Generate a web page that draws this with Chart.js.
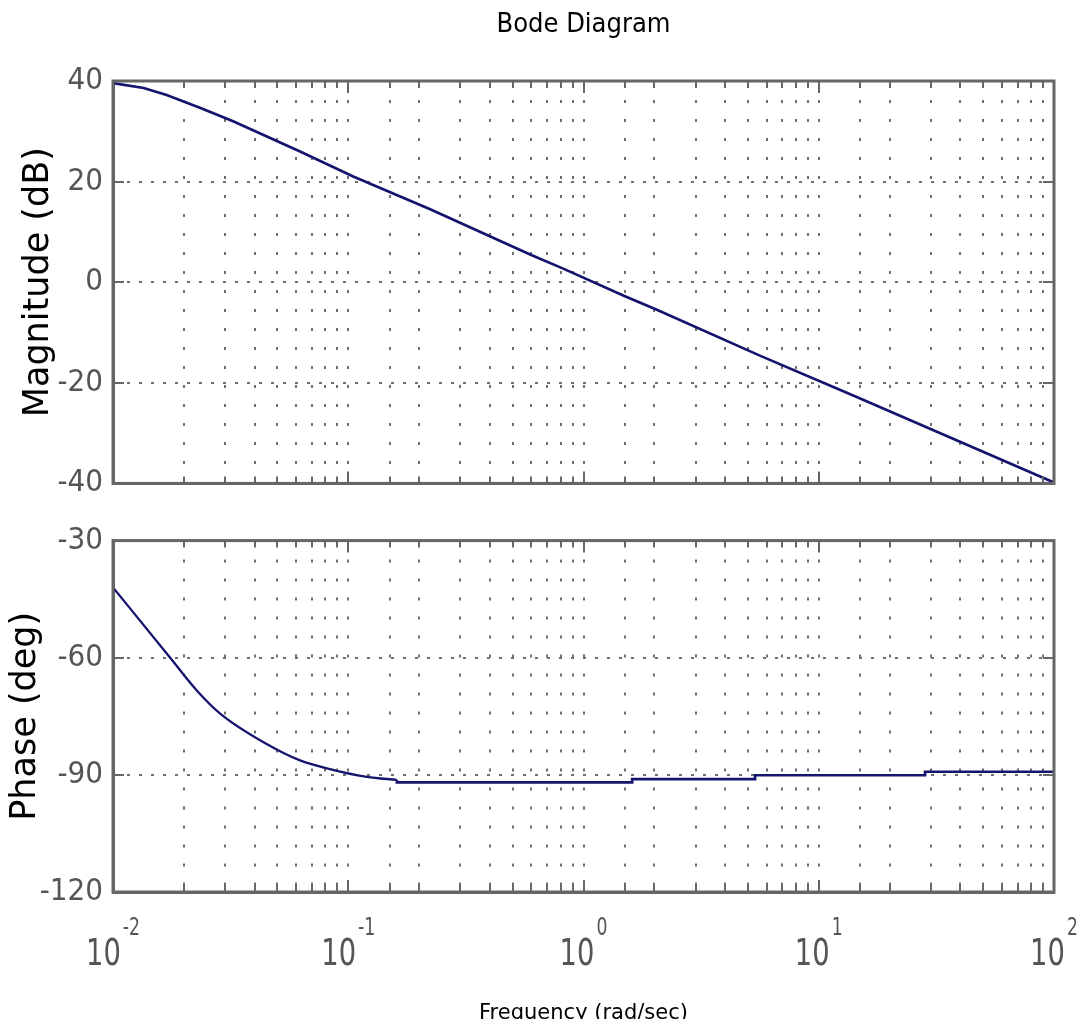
<!DOCTYPE html>
<html>
<head>
<meta charset="utf-8">
<script src="https://cdn.jsdelivr.net/npm/chart.js@4.4.1/dist/chart.umd.min.js"></script>
<style>
html, body { margin: 0; padding: 0; background: #fff; overflow: hidden; width: 1078px; height: 1019px; }
#wrap { position: relative; width: 1078px; height: 1019px; overflow: hidden; }
canvas { position: absolute; left: 0; }
#c1 { top: 0; }
#c2 { top: 512px; }
</style>
</head>
<body>
<div id="wrap">
  <canvas id="c1" width="1078" height="512"></canvas>
  <canvas id="c2" width="1078" height="528"></canvas>
</div>
<script>
// ---------------- data ----------------
const chartTitle = 'Bode Diagram';
const magLabel = 'Magnitude (dB)';
const phaseLabel = 'Phase (deg)';
const freqLabel = 'Frequency (rad/sec)';

const magFreq = [0.01, 0.0135, 0.0169, 0.0234, 0.0324, 0.0624, 0.105, 0.223, 0.593, 0.82, 1.5, 2.05, 5.62, 14.5, 100];
const magDb   = [39.6, 38.6, 37.2, 34.7, 32.0, 26.0, 21.0, 14.5, 5.5, 2.7, -2.8, -5.5, -14.6, -22.8, -39.8];

// smooth low-frequency part of the phase curve
const phaseCurveFreq = [0.01, 0.0175, 0.0228, 0.0288, 0.045, 0.0624, 0.086, 0.12, 0.161];
const phaseCurveDeg  = [-42, -60, -68.5, -74.5, -82.1, -86.3, -88.7, -90.5, -91.3];
// quantised flat part of the phase curve
const phaseStepFreq = [0.161, 0.161, 1.61, 1.61, 5.36, 5.36, 28.3, 28.3, 100];
const phaseStepDeg  = [-91.3, -91.9, -91.9, -91.1, -91.1, -90.1, -90.1, -89.2, -89.2];

const magTicks = [-40, -20, 0, 20, 40];
const phaseTicks = [-120, -90, -60, -30];
const xTickValues = [0.01, 0.1, 1, 10, 100];
const xTickBase = '10';
const xTickExp = ['-2', '-1', '0', '1', '2'];

// ---------------- styles ----------------
const LINE = '#14146e';
const AXIS = '#666666';
const GRID = '#707070';
const TICKTXT = '#555555';
const NARROW = '"Liberation Sans Narrow", "DejaVu Sans Condensed", "Liberation Sans", sans-serif';
const WIDE = '"DejaVu Sans", Verdana, sans-serif';

const framePlugin = {
  id: 'frame',
  afterDraw(chart) {
    const { ctx, chartArea: a, scales } = chart;
    const x = scales.x, y = scales.y;
    ctx.save();
    ctx.strokeStyle = AXIS;
    ctx.lineWidth = 2;
    ctx.beginPath();
    x.ticks.forEach(t => {
      const px = Math.round(x.getPixelForValue(t.value));
      const lg = Math.log10(t.value);
      const major = Math.abs(lg - Math.round(lg)) < 1e-6;
      const len = major ? 12 : 7;
      ctx.moveTo(px, a.bottom); ctx.lineTo(px, a.bottom - len);
      ctx.moveTo(px, a.top); ctx.lineTo(px, a.top + len);
    });
    y.ticks.forEach(t => {
      const py = Math.round(y.getPixelForValue(t.value));
      ctx.moveTo(a.left, py); ctx.lineTo(a.left + 11, py);
      ctx.moveTo(a.right, py); ctx.lineTo(a.right - 11, py);
    });
    ctx.stroke();
    ctx.lineWidth = 3;
    ctx.strokeRect(a.left, a.top, a.right - a.left, a.bottom - a.top);
    ctx.restore();
  }
};

const xLabelPlugin = {
  id: 'xlabels',
  afterDraw(chart) {
    const { ctx, scales: { x }, chartArea: a } = chart;
    ctx.save();
    ctx.fillStyle = TICKTXT;
    ctx.textBaseline = 'alphabetic';
    ctx.textAlign = 'left';
    const sx = 0.8;
    xTickValues.forEach((v, i) => {
      const px = x.getPixelForValue(v);
      ctx.font = '38px ' + NARROW;
      const w1 = ctx.measureText(xTickBase).width * sx;
      ctx.font = '24px ' + NARROW;
      const w2 = ctx.measureText(xTickExp[i]).width * sx;
      const gap = 2;
      const start = px - (w1 + gap + w2) / 2;
      ctx.save();
      ctx.translate(start, a.bottom + 73);
      ctx.scale(sx, 1);
      ctx.font = '38px ' + NARROW;
      ctx.fillText(xTickBase, 0, 0);
      ctx.restore();
      ctx.save();
      ctx.translate(start + w1 + gap, a.bottom + 43);
      ctx.scale(sx, 1);
      ctx.font = '24px ' + NARROW;
      ctx.fillText(xTickExp[i], 0, 0);
      ctx.restore();
    });
    ctx.restore();
  }
};

function xScale(fitHeight, title) {
  return {
    type: 'logarithmic',
    min: 0.01,
    max: 100,
    ticks: { display: false, autoSkip: false },
    grid: { color: GRID, lineWidth: 2, drawTicks: false },
    border: { display: true, color: AXIS, width: 3, dash: [3, 16] },
    title: title,
    afterFit(scale) { scale.height = fitHeight; }
  };
}

function yScale(min, max, step, ticksArr, label, titlePad) {
  return {
    type: 'linear',
    min: min,
    max: max,
    afterBuildTicks(scale) { scale.ticks = ticksArr.map(v => ({ value: v })); },
    ticks: {
      stepSize: step,
      color: TICKTXT,
      padding: 10,
      font: { family: NARROW, size: 31 }
    },
    grid: { color: GRID, lineWidth: 2, drawTicks: false },
    border: { display: true, color: AXIS, width: 3, dash: [3, 9] },
    title: {
      display: true,
      text: label,
      color: '#000',
      font: { family: WIDE, size: 35 },
      padding: { top: titlePad, bottom: 0 }
    },
    afterFit(scale) { scale.width = 113; }
  };
}

function series(xs, ys, width, smooth) {
  return {
    data: xs.map((f, i) => ({ x: f, y: ys[i] })),
    borderColor: LINE,
    borderWidth: width,
    pointRadius: 0,
    tension: 0,
    cubicInterpolationMode: smooth ? 'monotone' : 'default',
    fill: false
  };
}

Chart.defaults.font.family = NARROW;

new Chart(document.getElementById('c1'), {
  type: 'line',
  data: { datasets: [series(magFreq, magDb, 2.7, false)] },
  options: {
    responsive: false,
    animation: false,
    devicePixelRatio: 1,
    layout: { padding: { left: 0, right: 24, top: 0, bottom: 0 } },
    plugins: {
      legend: { display: false },
      tooltip: { enabled: false },
      title: {
        display: true,
        text: chartTitle,
        fullSize: false,
        color: '#000',
        font: { family: NARROW, size: 27, weight: 'normal' },
        padding: { top: 9, bottom: 39.6 }
      }
    },
    scales: {
      x: xScale(22, { display: false }),
      y: yScale(-40, 40, 20, magTicks, magLabel, 18)
    }
  },
  plugins: [framePlugin]
});

new Chart(document.getElementById('c2'), {
  type: 'line',
  data: {
    datasets: [
      series(phaseCurveFreq, phaseCurveDeg, 2.3, true),
      series(phaseStepFreq, phaseStepDeg, 2.7, false)
    ]
  },
  options: {
    responsive: false,
    animation: false,
    devicePixelRatio: 1,
    layout: { padding: { left: 0, right: 24, top: 23, bottom: 0 } },
    plugins: {
      legend: { display: false },
      tooltip: { enabled: false }
    },
    scales: {
      x: xScale(148, {
        display: true,
        text: freqLabel,
        color: '#000',
        font: { family: WIDE, size: 21 },
        padding: { top: 0, bottom: 14 }
      }),
      y: yScale(-120, -30, 30, phaseTicks, phaseLabel, 5)
    }
  },
  plugins: [framePlugin, xLabelPlugin]
});
</script>
</body>
</html>
